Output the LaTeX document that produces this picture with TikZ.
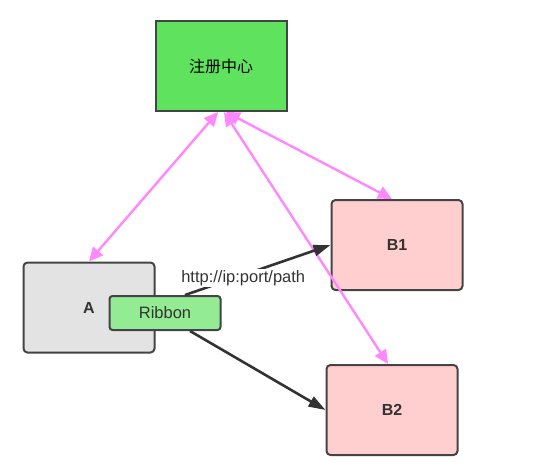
\documentclass[tikz,border=0pt]{standalone}
\usepackage{fontspec}
\setmainfont{Liberation Sans}
\newfontfamily\cjk{Noto Sans CJK SC}
\usetikzlibrary{arrows.meta}

\definecolor{hubgreen}{HTML}{5FE35F}
\definecolor{ribbongreen}{HTML}{93EB93}
\definecolor{clientgray}{HTML}{E3E3E3}
\definecolor{serverpink}{HTML}{FFCFCF}
\definecolor{regpink}{HTML}{FF88FF}
\definecolor{edgegray}{HTML}{444444}

\tikzset{
  boxnode/.style={draw=edgegray, line width=2pt, minimum width=131pt, minimum height=90pt, inner sep=0pt},
  regline/.style={draw=regpink, line width=2.4pt, {Triangle[length=14pt,width=13pt]}-{Triangle[length=14pt,width=13pt]}},
  callline/.style={draw=black!80, line width=2.6pt, -{Triangle[length=17pt,width=11pt]}}
}

\begin{document}
\begin{tikzpicture}[x=1pt,y=-1pt]
\useasboundingbox (0,0) rectangle (537,468);

\node[boxnode, fill=hubgreen] (hub) at (221,66) {\cjk\fontsize{16}{18}\selectfont 注册中心};
\node[boxnode, fill=clientgray, rounded corners=4pt] (a) at (89,307.5) {\fontsize{16}{18}\selectfont\bfseries\color{black!80} A};
\node[boxnode, fill=serverpink, rounded corners=4pt] (b1) at (397,245) {\fontsize{16}{18}\selectfont\bfseries\color{black!80} B1};
\node[boxnode, fill=serverpink, rounded corners=4pt] (b2) at (392,410) {\fontsize{16}{18}\selectfont\bfseries\color{black!80} B2};

% registry links
\draw[regline] (a.north) -- ([xshift=-3pt]hub.south);
\draw[regline] ([xshift=5pt]hub.south) -- ([xshift=-5pt]b1.north);
\draw[regline] ([xshift=3pt]hub.south) -- ([xshift=-4pt]b2.north);

% ribbon calls
\node[draw=edgegray, line width=2pt, fill=ribbongreen, rounded corners=3pt,
      minimum width=111pt, minimum height=34pt] (ribbon) at (165,313)
      {\fontsize{16.5}{18}\selectfont\color{black!80}Ribbon};
\draw[callline] ([xshift=20pt]ribbon.north) -- (b1.west)
  node[pos=0.4, yshift=-3pt, fill=white, inner sep=1pt, text=black!80] {\fontsize{16.5}{18}\selectfont http://ip:port/path};
\draw[callline] ([xshift=25pt]ribbon.south) -- (b2.west);
\end{tikzpicture}
\end{document}
